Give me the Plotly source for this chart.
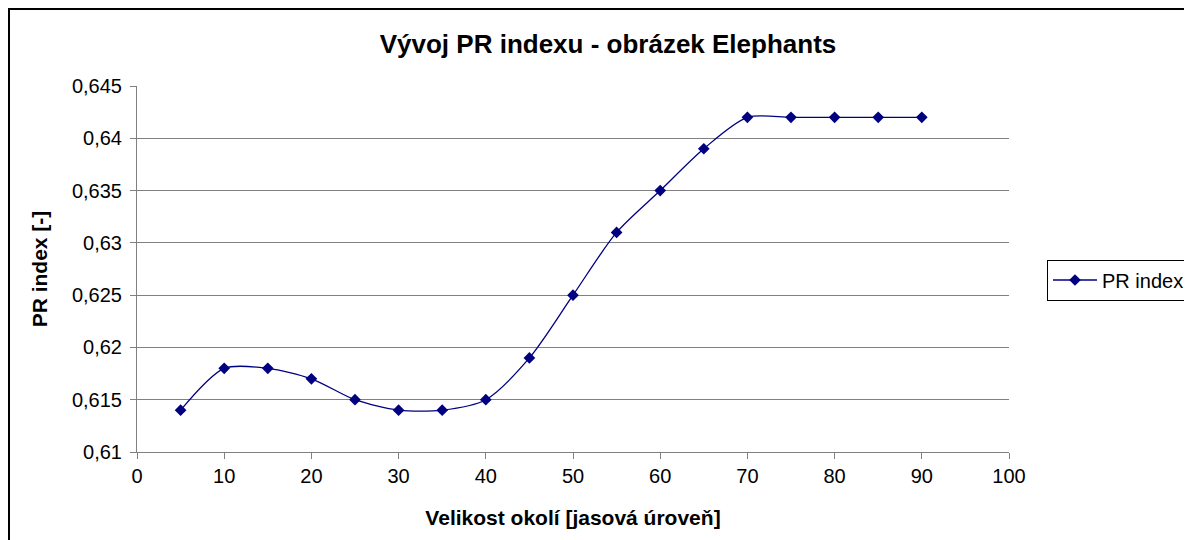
import plotly.graph_objects as go

x_vals = [5, 10, 15, 20, 25, 30, 35, 40, 45, 50, 55, 60, 65, 70, 75, 80, 85, 90]
pr_index = [0.614, 0.618, 0.618, 0.617, 0.615, 0.614, 0.614, 0.615, 0.619, 0.625,
            0.631, 0.635, 0.639, 0.642, 0.642, 0.642, 0.642, 0.642]
y_ticks = [0.61, 0.615, 0.62, 0.625, 0.63, 0.635, 0.64, 0.645]
y_tick_labels = ["0,61", "0,615", "0,62", "0,625", "0,63", "0,635", "0,64", "0,645"]
x_ticks = [0, 10, 20, 30, 40, 50, 60, 70, 80, 90, 100]

# page has an 8px body margin; figure coords = reference px - 8
L, R, T, B = 129, 191, 78, 96
W, H = 1192, 540
pw, ph = W - L - R, H - T - B

fig = go.Figure()
fig.add_trace(go.Scatter(
    x=x_vals, y=pr_index, mode="lines+markers", name="PR index",
    line=dict(color="#000080", width=1.3, shape="spline", smoothing=0.8),
    marker=dict(symbol="diamond", size=9, color="#000080"),
))

font = "Liberation Sans, Arial, sans-serif"
fig.update_layout(
    width=W, height=H,
    margin=dict(l=L, r=R, t=T, b=B, autoexpand=False),
    paper_bgcolor="white", plot_bgcolor="white",
    font=dict(family=font, color="black", size=20),
    title=dict(text="<b>Vývoj PR indexu - obrázek Elephants</b>", x=600 / W, xanchor="center",
               y=1 - 36 / H, yanchor="middle", font=dict(size=26, family=font)),
    xaxis=dict(range=[0, 100], tickvals=x_ticks, showgrid=False, showline=True,
               linecolor="#808080", linewidth=1, ticks="outside", ticklen=6,
               tickcolor="#808080", zeroline=False,
               tickfont=dict(size=20, family=font),
               title=dict(text="<b>Velikost okolí [jasová úroveň]</b>", font=dict(size=21, family=font),
                          standoff=24)),
    yaxis=dict(range=[0.61, 0.645], tickvals=y_ticks, ticktext=y_tick_labels,
               showgrid=True, gridcolor="#808080", gridwidth=1, showline=True,
               linecolor="#808080", linewidth=1, ticks="outside", ticklen=6,
               tickcolor="#808080", zeroline=False, ticklabelstandoff=4,
               tickfont=dict(size=20, family=font),
               title=dict(text="<b>PR index [-]</b>", font=dict(size=21, family=font), standoff=18)),
    legend=dict(x=(1039 - L) / pw, y=(H - B - 272) / ph, xanchor="left", yanchor="middle",
                bordercolor="black", borderwidth=1, bgcolor="white", itemwidth=44,
                font=dict(size=20, family=font)),
    showlegend=True,
)

# outer chart border
fig.add_shape(type="rect", xref="paper", yref="paper",
              x0=(1 - L) / pw, x1=(W + 10 - L) / pw,
              y0=-(10 + B) / ph, y1=1 + (T - 1) / ph,
              line=dict(color="black", width=2), fillcolor="rgba(0,0,0,0)", layer="below")

fig.write_html("out.html")
